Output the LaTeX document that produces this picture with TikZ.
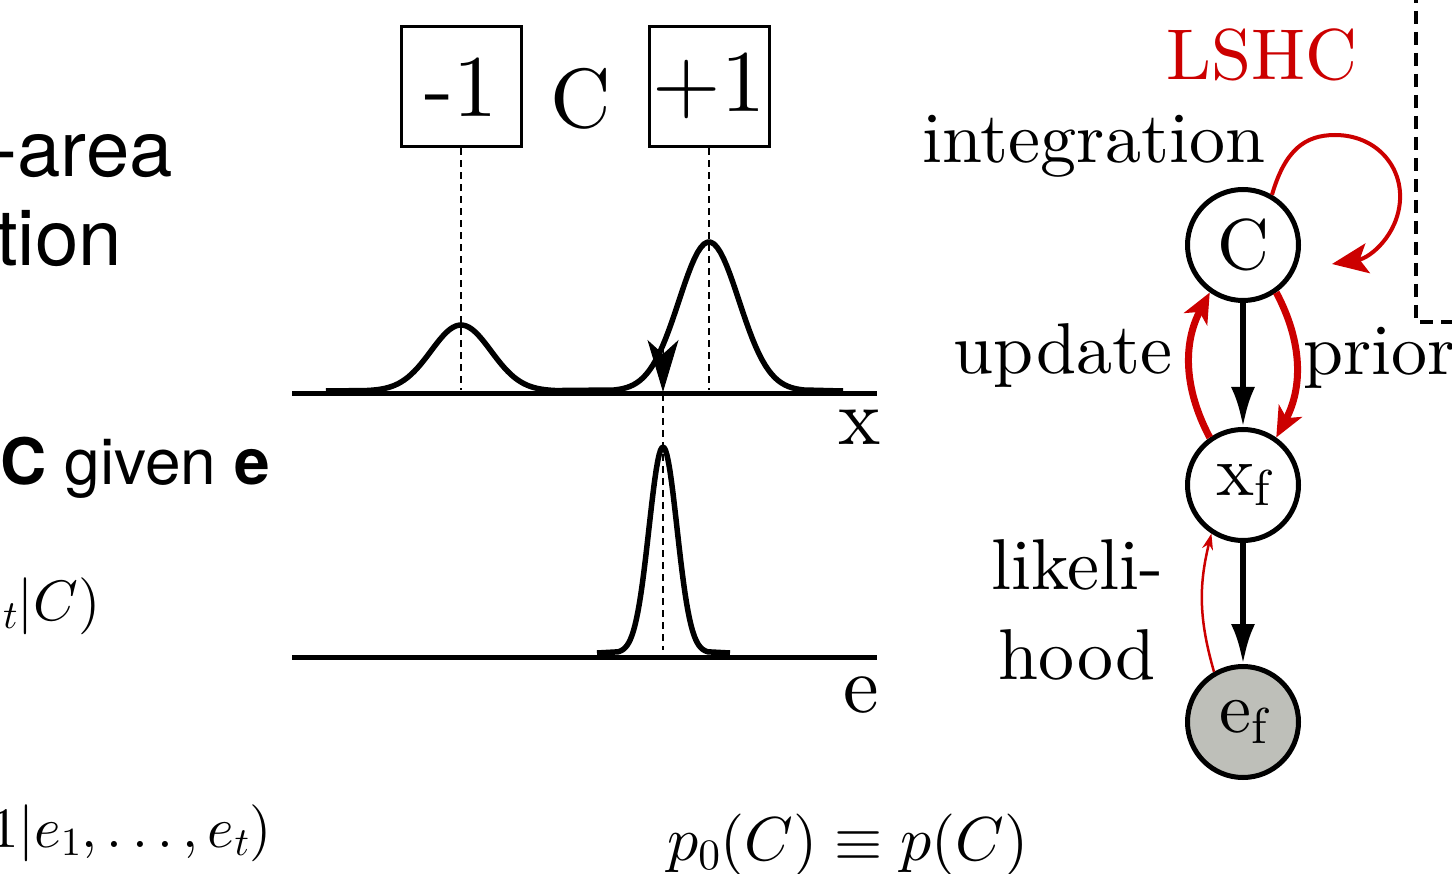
\documentclass[tikz,border=0pt]{standalone}
\usepackage{fontspec}
\setmainfont{lmroman10-regular}[Extension=.otf, BoldFont=lmroman10-bold, ItalicFont=lmroman10-italic]
\newfontfamily\helv{TeX Gyre Heros}
\DeclareFontShape{OT1}{cmr}{m}{n}{<->cmr10}{}
\DeclareFontShape{OML}{cmm}{m}{it}{<->cmmi10}{}
\DeclareFontShape{OMS}{cmsy}{m}{n}{<->cmsy10}{}
\DeclareFontShape{OMX}{cmex}{m}{n}{<->cmex10}{}
\usetikzlibrary{arrows.meta, positioning}
\definecolor{rot}{RGB}{204,0,0}
\definecolor{grau}{RGB}{190,191,185}

\begin{document}
\begin{tikzpicture}[
    x=1pt, y=-1pt,
    every node/.style={inner sep=0pt},
    gross/.style={font=\fontsize{72}{86}\selectfont},
    wert/.style={draw, line width=3pt, minimum size=120pt, font=\fontsize{88}{100}\selectfont},
    knoten/.style={circle, draw, line width=5pt, minimum size=111pt, font=\fontsize{72}{86}\selectfont},
    hilfslinie/.style={line width=2.2pt, dash pattern=on 7pt off 5pt},
    achse/.style={line width=5pt},
    kurve/.style={line width=5.5pt, line join=round},
    pfeil/.style={line width=6pt, -{Latex[length=40pt,width=24pt]}},
    rotpfeil/.style={rot, line width=7pt, -{Stealth[length=30pt,width=26pt,inset=8pt]}},
  ]
  \useasboundingbox (0,0) rectangle (1452,874);
  \clip (0,0) rectangle (1452,874);

  % Folientext links (abgeschnitten)
  \node[font=\helv\fontsize{78}{90}\selectfont, anchor=base east] (area) at (173,177) {-area};
  \node[font=\helv\fontsize{78}{90}\selectfont, anchor=base east] (tion) at (122,266) {tion};
  \node[font=\helv\fontsize{64}{74}\selectfont, anchor=base east] (given) at (270,485) {\textbf{C} given \textbf{e}};
  \node[font=\fontsize{57}{66}\selectfont, anchor=base east] (likel) at (101,620) {${}_t|C)$};
  \node[font=\fontsize{57}{66}\selectfont, anchor=base east] (post) at (272,847) {$1|e_1,\ldots,e_t)$};
  \node[font=\fontsize{62}{70}\selectfont, anchor=base west] (prior0) at (667,860) {$p_0(C) \equiv p(C)$};

  % Werte von C
  \node[wert] (minus) at (461,87) {-1};
  \node[wert] (plus) at (709,87) {$+1$};
  \node[font=\fontsize{84}{96}\selectfont, anchor=base] (cwert) at (581,128) {C};

  % Achsen
  \coordinate (xa) at (292,394);
  \coordinate (xb) at (877,394);
  \coordinate (ea) at (292,657);
  \coordinate (eb) at (877,657);
  \draw[achse] (xa) -- (xb);
  \draw[achse] (ea) -- (eb);
  \node[font=\fontsize{80}{90}\selectfont, anchor=base] (xlab) at (860,445) {x};
  \node[font=\fontsize{80}{90}\selectfont, anchor=base] (elab) at (861,712) {e};

  % p(x|C): zwei Glocken
  \draw[kurve] (326,391)
    -- plot[domain=366:556, samples=60] (\x, {391-66*exp(-((\x-461)/30)^2/2)})
    -- plot[domain=614:804, samples=60] (\x, {391-149*exp(-((\x-709)/30)^2/2)})
    -- (843,391);
  \coordinate (mfuss) at (461,390);
  \coordinate (pfuss) at (709,390);
  \draw[hilfslinie] (minus.south) -- (mfuss);
  \draw[hilfslinie] (plus.south) -- (pfuss);

  % Stichprobe x
  \coordinate (skopf) at (663,340);
  \coordinate (sfuss) at (663,392);
  \coordinate (eoben) at (663,394);
  \coordinate (eunten) at (663,650);
  \draw[line width=1pt, -{Stealth[length=52pt,width=31pt,inset=14pt]}] (skopf) -- (sfuss);
  \draw[hilfslinie] (eoben) -- (eunten);

  % p(e|x): schmale Glocke
  \draw[kurve] (597,653)
    -- plot[domain=618:708, samples=60] (\x, {653-206*exp(-((\x-663)/14)^2/2)})
    -- (730,653);

  % Graph rechts
  \node[knoten] (C) at (1243,245) {C};
  \node[knoten] (xf) at (1243,485) {$\mathrm{x_f}$};
  \node[knoten, fill=grau] (ef) at (1243,722) {$\mathrm{e_f}$};
  \draw[pfeil] (C) -- (xf);
  \draw[pfeil] (xf) -- (ef);
  \draw[rotpfeil] (xf.125) to[bend left=28] (C.235);
  \draw[rotpfeil] (C.-55) to[bend left=28] (xf.55);
  \draw[rot, line width=2.5pt, -{Stealth[length=16pt,width=11pt]}] (ef.120) to[bend left=15] (xf.237);
  \coordinate (lende) at (1332,264);
  \draw[rot, line width=4pt, -{Stealth[length=36pt,width=30pt,inset=8pt]}]
    (C.60) .. controls (1285,150) and (1305,135) .. (1335,135)
    .. controls (1375,135) and (1402,165) .. (1400,200)
    .. controls (1398,235) and (1370,258) .. (lende);

  \node[gross, rot, anchor=base] (lshc) at (1262,80) {LSHC};
  \node[gross, anchor=base] (integ) at (1094,163) {integration};
  \node[gross, anchor=base] (upd) at (1063,374) {update};
  \node[gross, anchor=base west] (prior) at (1303,375) {prior};
  \node[gross, anchor=base] (likeli) at (1077,589) {likeli-};
  \node[gross, anchor=base] (hood) at (1077,679) {hood};

  % gestrichelter Rahmen oben rechts
  \coordinate (ro) at (1416,-10);
  \coordinate (rr) at (1460,322);
  \draw[line width=4.5pt, dash pattern=on 13pt off 8pt] (ro) |- (rr);
\end{tikzpicture}
\end{document}
